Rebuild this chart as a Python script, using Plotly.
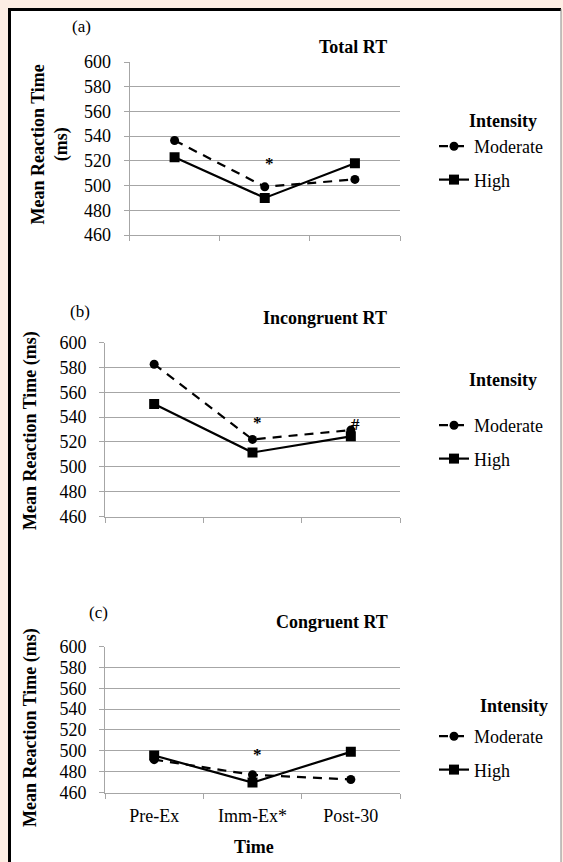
import plotly.graph_objects as go

# ---------------- data ----------------
times = ["Pre-Ex", "Imm-Ex*", "Post-30"]
total_moderate = [536.5, 499, 505]
total_high = [523, 490, 518]
incong_moderate = [582.5, 522, 529.5]
incong_high = [550.5, 511.5, 524.5]
cong_moderate = [491.5, 477, 472.5]
cong_high = [495.5, 469.5, 499]
y_ticks = [460, 480, 500, 520, 540, 560, 580, 600]
panel_titles = ["Total RT", "Incongruent RT", "Congruent RT"]
panel_letters = ["(a)", "(b)", "(c)"]
series_names = ["Moderate", "High"]
legend_title = "Intensity"
x_title = "Time"
sig_total = [("Imm-Ex*", 521, "*")]
sig_incong = [("Imm-Ex*", 538.5, "*"), ("Post-30", 537, "#")]
sig_cong = [("Imm-Ex*", 500, "*")]

# ---------------- layout helpers ----------------
W, H = 563, 862
FONT = "Liberation Serif, Times New Roman, serif"
GRID = "#a6a6a6"
PEACH = "#fdeee4"


def px(x):
    return x / W


def py(y):
    return 1 - y / H


panels = [
    dict(mod=total_moderate, high=total_high, sig=sig_total,
         xd=(129.5, 400), yd=(62, 235), ylabel="Mean Reaction Time<br>(ms)",
         ylab_x=49.5, ylab_y=145, letter_xy=(81, 27), title_xy=(353, 47),
         int_xy=(502.5, 121), leg_top=128, ticklabels=False),
    dict(mod=incong_moderate, high=incong_high, sig=sig_incong,
         xd=(105, 400), yd=(342.5, 516.5), ylabel="Mean Reaction Time (ms)",
         ylab_x=30, ylab_y=431, letter_xy=(80, 312), title_xy=(325, 318.5),
         int_xy=(502.5, 379.5), leg_top=407, ticklabels=False),
    dict(mod=cong_moderate, high=cong_high, sig=sig_cong,
         xd=(105, 400), yd=(646.5, 792.5), ylabel="Mean Reaction Time (ms)",
         ylab_x=30, ylab_y=728, letter_xy=(98, 612), title_xy=(332, 622),
         int_xy=(514, 706), leg_top=718, ticklabels=True),
]

fig = go.Figure()
annotations = []
layout_axes = {}
legends = {}

for i, p in enumerate(panels, start=1):
    sfx = "" if i == 1 else str(i)
    leg = "legend" if i == 1 else f"legend{i}"
    fig.add_trace(go.Scatter(
        x=times, y=p["mod"], mode="lines+markers", name=series_names[0],
        line=dict(color="black", width=2.2, dash="9px,7px"),
        marker=dict(symbol="circle", size=9, color="black"),
        xaxis=f"x{sfx}", yaxis=f"y{sfx}", legend=leg, legendgroup=f"m{i}",
        hoverinfo="skip"))
    fig.add_trace(go.Scatter(
        x=times, y=p["high"], mode="lines+markers", name=series_names[1],
        line=dict(color="black", width=2.2),
        marker=dict(symbol="square", size=10, color="black"),
        xaxis=f"x{sfx}", yaxis=f"y{sfx}", legend=leg, legendgroup=f"h{i}",
        hoverinfo="skip"))

    layout_axes[f"xaxis{sfx}"] = dict(
        domain=[px(p["xd"][0]), px(p["xd"][1])], type="category",
        categoryorder="array", categoryarray=times,
        range=[-0.5, 2.5], tickson="boundaries", ticks="outside", ticklen=5,
        tickcolor=GRID, showline=True, linecolor=GRID, linewidth=1,
        showgrid=False, zeroline=False, showticklabels=p["ticklabels"],
        tickfont=dict(family=FONT, size=18, color="black"),
        ticklabelstandoff=7,
        anchor=f"y{sfx}", fixedrange=True)
    layout_axes[f"yaxis{sfx}"] = dict(
        domain=[py(p["yd"][1]), py(p["yd"][0])], range=[460, 600],
        tickvals=y_ticks, ticks="outside", ticklen=5, tickcolor=GRID,
        showgrid=True, gridcolor=GRID, gridwidth=1, showline=True,
        linecolor=GRID, linewidth=1, zeroline=False,
        tickfont=dict(family=FONT, size=18, color="black"),
        ticklabelstandoff=9, anchor=f"x{sfx}", fixedrange=True)

    legends[leg] = dict(
        x=px(434), y=py(p["leg_top"]), xanchor="left", yanchor="top",
        bgcolor="rgba(0,0,0,0)", font=dict(family=FONT, size=18, color="black"),
        tracegroupgap=7, itemclick=False, itemdoubleclick=False)

    # panel letter
    annotations.append(dict(text=panel_letters[i - 1], x=px(p["letter_xy"][0]),
                            y=py(p["letter_xy"][1]), xref="paper", yref="paper",
                            showarrow=False, xanchor="center", yanchor="middle",
                            font=dict(family=FONT, size=17, color="black")))
    # panel title
    annotations.append(dict(text=f"<b>{panel_titles[i - 1]}</b>", x=px(p["title_xy"][0]),
                            y=py(p["title_xy"][1]), xref="paper", yref="paper",
                            showarrow=False, xanchor="center", yanchor="middle",
                            font=dict(family=FONT, size=18, color="black")))
    # legend title
    annotations.append(dict(text=f"<b>{legend_title}</b>", x=px(p["int_xy"][0]),
                            y=py(p["int_xy"][1]), xref="paper", yref="paper",
                            showarrow=False, xanchor="center", yanchor="middle",
                            font=dict(family=FONT, size=18, color="black")))
    # y-axis label
    annotations.append(dict(text=f"<b>{p['ylabel']}</b>", x=px(p["ylab_x"]),
                            y=py(p["ylab_y"]), xref="paper", yref="paper",
                            showarrow=False, xanchor="center", yanchor="middle",
                            textangle=-90, align="center",
                            font=dict(family=FONT, size=18, color="black")))
    # significance marks
    for cat, val, sym in p["sig"]:
        annotations.append(dict(text=f"<b>{sym}</b>", x=cat, y=val, xref=f"x{sfx}",
                                yref=f"y{sfx}", showarrow=False, xanchor="center",
                                yanchor="middle", xshift=5, yshift=-4,
                                font=dict(family=FONT, size=17, color="black")))

# x-axis title
annotations.append(dict(text=f"<b>{x_title}</b>", x=px(254), y=py(847),
                        xref="paper", yref="paper", showarrow=False,
                        xanchor="center", yanchor="middle",
                        font=dict(family=FONT, size=18, color="black")))

shapes = [
    dict(type="rect", xref="paper", yref="paper", x0=px(9), x1=px(561),
         y0=-0.05, y1=py(9), fillcolor="white", line=dict(width=0), layer="below"),
    dict(type="line", xref="paper", yref="paper", x0=px(9.5), x1=px(9.5),
         y0=-0.05, y1=py(8), line=dict(color="black", width=3)),
    dict(type="line", xref="paper", yref="paper", x0=px(8), x1=px(561),
         y0=py(9.5), y1=py(9.5), line=dict(color="black", width=3)),
    dict(type="line", xref="paper", yref="paper", x0=px(561), x1=px(561),
         y0=-0.05, y1=py(9), line=dict(color="#888888", width=1)),
]

fig.update_layout(
    autosize=True,
    margin=dict(l=0, r=0, t=0, b=0, pad=0, autoexpand=False),
    paper_bgcolor=PEACH, plot_bgcolor="rgba(0,0,0,0)",
    showlegend=True, annotations=annotations, shapes=shapes,
    font=dict(family=FONT, color="black"),
    **layout_axes, **legends,
)

post = ("document.documentElement.style.margin='0';"
        "document.documentElement.style.padding='0';"
        "document.documentElement.style.overflow='hidden';"
        "document.body.style.margin='0';"
        "document.body.style.padding='0';"
        "document.body.style.overflow='hidden';"
        "document.body.style.background='" + PEACH + "';"
        "var gd=document.getElementsByClassName('plotly-graph-div')[0];"
        "gd.style.position='fixed';gd.style.top='0px';gd.style.left='0px';"
        "gd.style.width='100vw';gd.style.height='100vh';"
        "Plotly.Plots.resize(gd);")

fig.write_html("out.html", config={"displayModeBar": False, "responsive": True},
               default_width="100vw", default_height="100vh",
               post_script=post)
